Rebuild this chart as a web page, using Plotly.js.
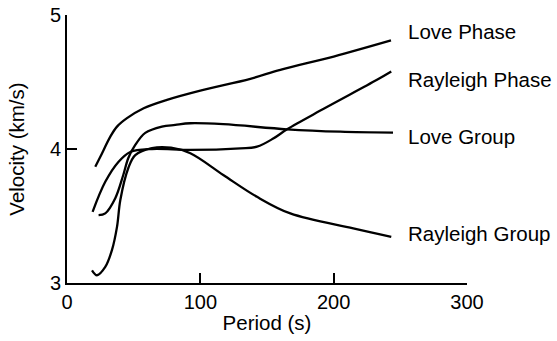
<!DOCTYPE html>
<html>
<head>
<meta charset="utf-8">
<script src="https://cdn.plot.ly/plotly-3.0.1.min.js"></script>
<style>html,body{margin:0;padding:0;background:#fff;}#chart{width:557px;height:341px;}</style>
</head>
<body>
<div id="chart"></div>
<script>
// Period (s) and velocity (km/s)
const lovePhaseX = [21.2, 25, 32.5, 37.5, 45, 57.5, 75, 100, 137.5, 160, 200, 243];
const lovePhaseY = [3.868, 3.942, 4.092, 4.167, 4.230, 4.304, 4.367, 4.436, 4.524, 4.591, 4.69, 4.81];

const rayleighPhaseX = [19.2, 28.7, 38.7, 47.5, 63.7, 92.5, 130, 142.5, 155, 165, 192.5, 232.5, 243.2];
const rayleighPhaseY = [3.531, 3.755, 3.905, 3.978, 4.0, 3.993, 4.005, 4.017, 4.08, 4.147, 4.30, 4.516, 4.578];

const loveGroupX = [23.7, 28.7, 36.2, 42.2, 46, 51.2, 58.7, 71.2, 81.2, 92.5, 117.2, 165, 205, 244.5];
const loveGroupY = [3.506, 3.52, 3.633, 3.806, 3.933, 4.03, 4.12, 4.167, 4.18, 4.192, 4.185, 4.147, 4.129, 4.122];

const rayleighGroupX = [18.75, 22.5, 28.7, 33.7, 37.5, 40, 46, 51.2, 63.7, 78, 92.5, 117.2, 142.5, 167.5, 214.7, 243.2];
const rayleighGroupY = [3.095, 3.058, 3.12, 3.245, 3.419, 3.62, 3.858, 3.955, 4.007, 4.01, 3.968, 3.806, 3.643, 3.519, 3.407, 3.344];

const seriesNames = ["Love Phase", "Rayleigh Phase", "Love Group", "Rayleigh Group"];
const labelY = [4.875, 4.516, 4.097, 3.372];
const labelX = 254;

const xTicks = [0, 100, 200, 300];
const yTicks = [3, 4, 5];

const FONT = "Liberation Sans, Arial, sans-serif";
const lineStyle = {color: "#000", width: 2.3, shape: "spline", smoothing: 1};

const xs = [lovePhaseX, rayleighPhaseX, loveGroupX, rayleighGroupX];
const ys = [lovePhaseY, rayleighPhaseY, loveGroupY, rayleighGroupY];
const traces = xs.map((x, i) => ({
  x: x, y: ys[i], type: "scatter", mode: "lines", name: seriesNames[i],
  line: lineStyle, cliponaxis: false, hoverinfo: "skip"
}));

const annotations = seriesNames.map((n, i) => ({
  text: n, x: labelX, y: labelY[i], xref: "x", yref: "y",
  xanchor: "left", yanchor: "middle", showarrow: false,
  font: {family: FONT, size: 20.5, color: "#000"}
}));

const layout = {
  width: 557, height: 341,
  margin: {l: 67, r: 90, t: 15, b: 58},
  paper_bgcolor: "#fff", plot_bgcolor: "#fff",
  showlegend: false,
  font: {family: FONT, size: 20, color: "#000"},
  xaxis: {
    range: [0, 300], tickvals: xTicks, ticktext: xTicks.map(String),
    ticks: "inside", ticklen: 10, tickwidth: 2, tickcolor: "#000",
    showline: true, linewidth: 2, linecolor: "#000",
    showgrid: false, zeroline: false,
    title: {text: "Period (s)", font: {family: FONT, size: 20.5, color: "#000"}, standoff: 4},
    tickfont: {family: FONT, size: 20, color: "#000"}
  },
  yaxis: {
    range: [3, 5], tickvals: yTicks, ticktext: yTicks.map(String),
    ticks: "inside", ticklen: 10, tickwidth: 2, tickcolor: "#000",
    showline: true, linewidth: 2, linecolor: "#000",
    showgrid: false, zeroline: false,
    title: {text: "Velocity (km/s)", font: {family: FONT, size: 20.5, color: "#000"}, standoff: 20},
    tickfont: {family: FONT, size: 20, color: "#000"}
  },
  annotations: annotations
};

Plotly.newPlot("chart", traces, layout, {displayModeBar: false, staticPlot: true});
</script>
</body>
</html>
